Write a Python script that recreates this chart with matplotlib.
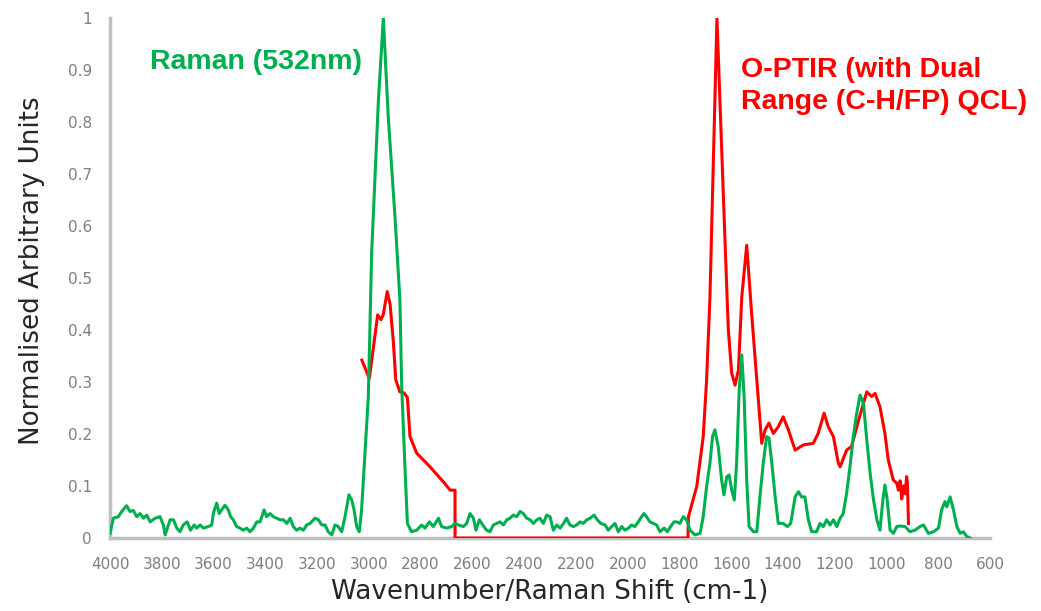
import matplotlib
matplotlib.use("Agg")
import matplotlib.pyplot as plt
from matplotlib.ticker import FuncFormatter

# Raman (532nm) spectrum
raman_wn = [4000, 3987, 3968, 3955, 3936, 3923, 3910, 3897, 3884, 3871, 3858, 3845, 3826, 3807,
            3794, 3787, 3768, 3755, 3742, 3730, 3717, 3702, 3689, 3675, 3665, 3652, 3639, 3620,
            3607, 3601, 3588, 3578, 3569, 3556, 3543, 3534, 3524, 3511, 3498, 3485, 3472, 3459,
            3446, 3433, 3420, 3405, 3395, 3382, 3369, 3356, 3343, 3330, 3317, 3304, 3292, 3279,
            3266, 3253, 3240, 3227, 3208, 3195, 3182, 3169, 3157, 3143, 3131, 3118, 3105, 3092,
            3077, 3066, 3057, 3047, 3037, 3028, 3015, 3002, 2989, 2963, 2944, 2925, 2899, 2880,
            2873, 2860, 2851, 2835, 2815, 2796, 2783, 2766, 2751, 2731, 2719, 2699, 2680, 2667,
            2654, 2635, 2622, 2609, 2596, 2586, 2573, 2560, 2545, 2532, 2519, 2506, 2493, 2480,
            2467, 2455, 2442, 2429, 2416, 2403, 2390, 2377, 2364, 2351, 2339, 2326, 2313, 2300,
            2287, 2274, 2261, 2248, 2236, 2223, 2210, 2197, 2184, 2171, 2158, 2145, 2130, 2117,
            2104, 2087, 2075, 2062, 2049, 2036, 2023, 2010, 1997, 1985, 1972, 1959, 1946, 1937,
            1927, 1914, 1901, 1888, 1875, 1859, 1847, 1834, 1821, 1810, 1798, 1785, 1772, 1759,
            1740, 1720, 1708, 1695, 1682, 1672, 1663, 1650, 1637, 1628, 1617, 1608, 1598, 1588,
            1579, 1569, 1559, 1550, 1540, 1531, 1514, 1501, 1489, 1476, 1463, 1454, 1443, 1430,
            1418, 1399, 1383, 1370, 1353, 1340, 1328, 1315, 1302, 1289, 1270, 1257, 1244, 1231,
            1218, 1205, 1192, 1179, 1167, 1154, 1141, 1128, 1115, 1102, 1089, 1076, 1063, 1050,
            1037, 1025, 1014, 1006, 997, 986, 973, 960, 948, 928, 909, 890, 870, 857, 838, 818,
            799, 787, 774, 767, 754, 741, 728, 715, 703, 690, 677]
raman_val = [0.009, 0.038, 0.041, 0.051, 0.062, 0.051, 0.053, 0.041, 0.047, 0.038, 0.044, 0.031,
             0.038, 0.041, 0.025, 0.006, 0.035, 0.035, 0.019, 0.012, 0.025, 0.031, 0.015, 0.025,
             0.019, 0.025, 0.019, 0.022, 0.025, 0.047, 0.067, 0.047, 0.054, 0.063, 0.054, 0.041,
             0.035, 0.022, 0.019, 0.015, 0.019, 0.012, 0.019, 0.031, 0.031, 0.054, 0.041, 0.047,
             0.041, 0.038, 0.035, 0.035, 0.028, 0.038, 0.022, 0.015, 0.019, 0.015, 0.025, 0.028,
             0.038, 0.035, 0.025, 0.025, 0.012, 0.006, 0.025, 0.022, 0.012, 0.041, 0.083, 0.073,
             0.054, 0.022, 0.012, 0.054, 0.163, 0.272, 0.55, 0.842, 1.0, 0.81, 0.618, 0.458,
             0.291, 0.131, 0.028, 0.012, 0.015, 0.025, 0.019, 0.031, 0.022, 0.038, 0.022, 0.019,
             0.022, 0.028, 0.025, 0.022, 0.028, 0.047, 0.038, 0.015, 0.035, 0.025, 0.015, 0.012,
             0.025, 0.028, 0.031, 0.025, 0.035, 0.038, 0.044, 0.041, 0.051, 0.047, 0.038, 0.035,
             0.028, 0.035, 0.038, 0.028, 0.044, 0.041, 0.015, 0.025, 0.019, 0.028, 0.038, 0.025,
             0.022, 0.025, 0.031, 0.028, 0.035, 0.038, 0.044, 0.035, 0.028, 0.025, 0.015, 0.022,
             0.028, 0.012, 0.022, 0.015, 0.019, 0.025, 0.022, 0.031, 0.041, 0.047, 0.041, 0.031,
             0.028, 0.025, 0.012, 0.019, 0.012, 0.022, 0.031, 0.031, 0.028, 0.041, 0.035, 0.015,
             0.006, 0.009, 0.041, 0.099, 0.144, 0.195, 0.208, 0.176, 0.112, 0.083, 0.118, 0.121,
             0.092, 0.073, 0.144, 0.285, 0.352, 0.272, 0.112, 0.022, 0.012, 0.012, 0.079, 0.144,
             0.195, 0.192, 0.144, 0.079, 0.028, 0.028, 0.022, 0.028, 0.079, 0.089, 0.079, 0.079,
             0.035, 0.012, 0.012, 0.028, 0.022, 0.035, 0.025, 0.035, 0.022, 0.038, 0.047, 0.086,
             0.137, 0.195, 0.24, 0.275, 0.259, 0.188, 0.124, 0.073, 0.035, 0.015, 0.073, 0.102,
             0.073, 0.015, 0.009, 0.022, 0.023, 0.022, 0.012, 0.015, 0.022, 0.025, 0.009, 0.012,
             0.019, 0.054, 0.07, 0.06, 0.079, 0.054, 0.022, 0.009, 0.012, 0.003, 0.0]

# O-PTIR (dual range QCL) spectrum
optir_wn = [3027, 2998, 2966, 2953, 2944, 2929, 2918, 2905, 2896, 2880, 2864, 2851, 2841, 2815,
            2764, 2712, 2686, 2667, 2667, 1767, 1765, 1733, 1708, 1695, 1682, 1655, 1624, 1611,
            1598, 1585, 1572, 1559, 1540, 1521, 1501, 1482, 1469, 1454, 1437, 1418, 1399, 1379,
            1353, 1321, 1283, 1264, 1241, 1225, 1205, 1186, 1179, 1154, 1135, 1109, 1089, 1076,
            1057, 1044, 1025, 1006, 993, 974, 960, 954, 947, 941, 935, 928, 922, 919, 915]
optir_val = [0.342, 0.307, 0.429, 0.42, 0.43, 0.474, 0.45, 0.375, 0.304, 0.281, 0.279, 0.27,
             0.195, 0.163, 0.137, 0.108, 0.092, 0.092, 0.0, 0.0, 0.041, 0.099, 0.195, 0.304,
             0.464, 1.0, 0.573, 0.4, 0.317, 0.294, 0.323, 0.464, 0.563, 0.432, 0.304, 0.182,
             0.208, 0.221, 0.201, 0.214, 0.233, 0.208, 0.169, 0.179, 0.182, 0.201, 0.24, 0.214,
             0.195, 0.144, 0.137, 0.169, 0.176, 0.224, 0.259, 0.281, 0.272, 0.278, 0.252, 0.201,
             0.15, 0.112, 0.105, 0.092, 0.11, 0.075, 0.1, 0.085, 0.118, 0.105, 0.028]

xticks = list(range(4000, 599, -200))
yticks = [0, 0.1, 0.2, 0.3, 0.4, 0.5, 0.6, 0.7, 0.8, 0.9, 1]

green = "#00B050"
red = "#FF0000"
axis_grey = "#BFBFBF"

fig = plt.figure(figsize=(10.41, 6.11), dpi=100)
ax = fig.add_axes([0.1057, 0.1195, 0.8453, 0.851])

ax.plot(raman_wn, raman_val, color=green, lw=2.2, solid_joinstyle="round", zorder=3)
ax.plot(optir_wn, optir_val, color=red, lw=2.2, solid_joinstyle="round", zorder=2)

ax.set_xlim(4000, 600)
ax.set_ylim(0, 1)
ax.set_xticks(xticks)
ax.set_yticks(yticks)
ax.yaxis.set_major_formatter(FuncFormatter(lambda v, p: "%g" % v))
ax.tick_params(length=0, labelsize=11, labelcolor="#7F7F7F", pad=13)
ax.tick_params(axis="x", pad=14)

for s in ["top", "right"]:
    ax.spines[s].set_visible(False)
for s in ["left", "bottom"]:
    ax.spines[s].set_color(axis_grey)
    ax.spines[s].set_linewidth(2.5)
    ax.spines[s].set_zorder(1)

ax.set_xlabel("Wavenumber/Raman Shift (cm-1)", fontsize=18.8, color="#262626", labelpad=5)
ax.set_ylabel("Normalised Arbitrary Units", fontsize=18.8, color="#262626")
ax.yaxis.set_label_coords(-0.074, 0.515)

ax.text(0.045, 0.915, "Raman (532nm)", transform=ax.transAxes, color=green,
        fontsize=20.5, fontweight="bold", family="Liberation Sans", va="center")
ax.text(0.717, 0.87, "O-PTIR (with Dual\nRange (C-H/FP) QCL)", transform=ax.transAxes,
        color=red, fontsize=20.5, fontweight="bold", family="Liberation Sans",
        va="center", linespacing=1.3)

fig.savefig("out.png", dpi=100)
